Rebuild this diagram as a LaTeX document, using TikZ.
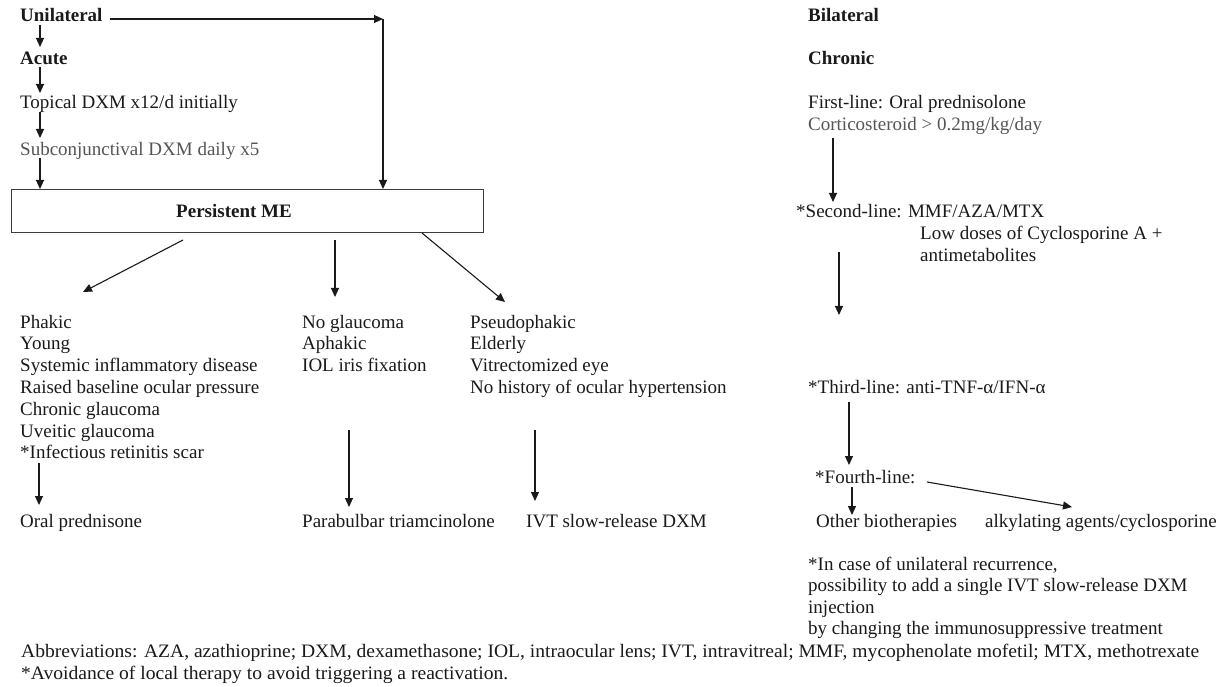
\documentclass[tikz,border=0pt]{standalone}
\usepackage{fontspec}
\setmainfont{Liberation Serif}
\usetikzlibrary{arrows.meta,calc}
\definecolor{ink}{HTML}{1A1A1A}
\definecolor{greytxt}{HTML}{555555}
\begin{document}
\begin{tikzpicture}[x=1pt,y=-1pt,
  txt/.style={anchor=base west, inner sep=0pt, font=\fontsize{19}{21.8}\selectfont, text=ink},
  boldtxt/.style={txt, font=\fontsize{19}{21.8}\selectfont\bfseries},
  greyed/.style={txt, text=greytxt},
  arr/.style={draw=ink, line width=1.1pt, -{Triangle[length=9pt,width=8pt]}},
  mebox/.style={draw=ink!85, line width=1pt, anchor=north west, minimum width=472pt, minimum height=43pt, inner sep=0pt, font=\fontsize{19}{21.8}\selectfont\bfseries, text=ink}
]
\useasboundingbox (0,0) rectangle (1227,687);
\fill[white] (0,0) rectangle (1227,687);

% ---------- left column: unilateral ----------
\node[boldtxt] (uni) at (20,22) {Unilateral};
\node[boldtxt] (acute) at (20,65) {Acute};
\node[txt] (topical) at (20,109) {Topical DXM x12/d initially};
\node[greyed] (subconj) at (20,156) {Subconjunctival DXM daily x5};
\node[mebox] (box) at (11,189) {Persistent ME\hspace*{27pt}};

% lists
\foreach \t [count=\i] in {Phakic,Young,Systemic inflammatory disease,Raised baseline ocular pressure,Chronic glaucoma,Uveitic glaucoma,*Infectious retinitis scar}
  \node[txt] (pa\i) at (20,{328+21.8*(\i-1)}) {\t};
\foreach \t [count=\i] in {No glaucoma,Aphakic,IOL iris fixation}
  \node[txt] (ng\i) at (302,{328+21.8*(\i-1)}) {\t};
\foreach \t [count=\i] in {Pseudophakic,Elderly,Vitrectomized eye,No history of ocular hypertension}
  \node[txt] (ps\i) at (470,{328+21.8*(\i-1)}) {\t};

\node[txt] (oral) at (20,527) {Oral prednisone};
\node[txt] (parab) at (302,527) {Parabulbar triamcinolone};
\node[txt] (ivt) at (526,527) {IVT slow-release DXM};

% ---------- right column: bilateral ----------
\node[boldtxt] (bil) at (808,22) {Bilateral};
\node[boldtxt] (chron) at (808,65) {Chronic};
\node[txt] (first) at (808,109) {First-line: Oral prednisolone};
\node[greyed] (cortic) at (808,131) {Corticosteroid > 0.2mg/kg/day};
\node[txt] (second) at (796,218) {*Second-line: MMF/AZA/MTX};
\node[txt] (low1) at (920,240) {Low doses of Cyclosporine A +};
\node[txt] (low2) at (920,262) {antimetabolites};
\node[txt] (third) at (808,393) {*Third-line: anti-TNF-α/IFN-α};
\node[txt] (fourth) at (815,483) {*Fourth-line:};
\node[txt] (other) at (816,527) {Other biotherapies};
\node[txt] (alky) at (985,527) {alkylating agents/cyclosporine};
\foreach \t [count=\i] in {{*In case of unilateral recurrence,},{possibility to add a single IVT slow-release DXM},{injection},{by changing the immunosuppressive treatment}}
  \node[txt] (note\i) at (808,{570+21.5*(\i-1)}) {\t};

\node[txt, xscale=1.03] (abbr) at (21,657) {Abbreviations: AZA, azathioprine; DXM, dexamethasone; IOL, intraocular lens; IVT, intravitreal; MMF, mycophenolate mofetil; MTX, methotrexate};
\node[txt, xscale=1.03] (avoid) at (21,679) {*Avoidance of local therapy to avoid triggering a reactivation.};

% ---------- connector end points ----------
\coordinate (u0) at (40,25);   \coordinate (u1) at (40,47);
\coordinate (a0) at (40,67);   \coordinate (a1) at (40,93);
\coordinate (t0) at (40,112);  \coordinate (t1) at (40,138);
\coordinate (s0) at (40,158);  \coordinate (s1) at (40,189);
\coordinate (h0) at (110,19);  \coordinate (h1) at (383,19);  \coordinate (h2) at (383,189);
\coordinate (b1s) at (183,240); \coordinate (b1e) at (83,292);
\coordinate (b2s) at (335,240); \coordinate (b2e) at (335,297);
\coordinate (b3s) at (422,233); \coordinate (b3e) at (505,302);
\coordinate (c1s) at (39,463);  \coordinate (c1e) at (39,505);
\coordinate (c2s) at (349,430); \coordinate (c2e) at (349,507);
\coordinate (c3s) at (535,430); \coordinate (c3e) at (535,501);
\coordinate (r1s) at (833,138); \coordinate (r1e) at (833,202);
\coordinate (r2s) at (839,252); \coordinate (r2e) at (839,315);
\coordinate (r3s) at (849,402); \coordinate (r3e) at (849,465);
\coordinate (r4s) at (852,487); \coordinate (r4e) at (852,515);
\coordinate (r5s) at (927,482); \coordinate (r5e) at (1072,507);

% ---------- connectors ----------
\draw[arr] (u0) -- (u1);
\draw[arr] (a0) -- (a1);
\draw[arr] (t0) -- (t1);
\draw[arr] (s0) -- (s1);
\draw[arr] (h0) -- (h1);
\draw[arr] (h1) -- (h2);
\draw[arr] (b1s) -- (b1e);
\draw[arr] (b2s) -- (b2e);
\draw[arr] (b3s) -- (b3e);
\draw[arr] (c1s) -- (c1e);
\draw[arr] (c2s) -- (c2e);
\draw[arr] (c3s) -- (c3e);
\draw[arr] (r1s) -- (r1e);
\draw[arr] (r2s) -- (r2e);
\draw[arr] (r3s) -- (r3e);
\draw[arr] (r4s) -- (r4e);
\draw[arr] (r5s) -- (r5e);
\end{tikzpicture}
\end{document}
